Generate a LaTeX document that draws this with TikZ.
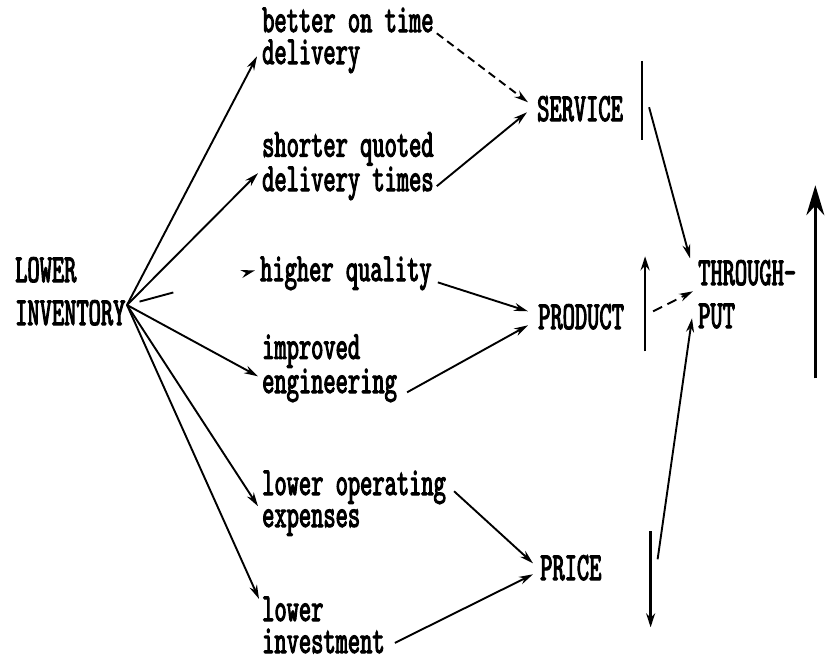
\documentclass[tikz,border=0pt]{standalone}
\usepackage{fontspec}
\usepackage{tikz}
\usetikzlibrary{arrows.meta}
\newfontfamily\typefont[Extension=.otf,FakeStretch=0.583,FakeBold=2.5]{lmmono10-regular}

\tikzset{
  lbl/.style={anchor=base west, inner sep=0pt, align=left,
    font=\typefont\fontsize{40}{32}\selectfont},
  caps/.style={lbl, font=\typefont\fontsize{40}{43}\selectfont},
  arr/.style={-{Stealth[length=14pt,width=8pt]}, line width=1.9pt},
  faint/.style={arr, dash pattern=on 8pt off 5pt},
  bar/.style={line width=2.6pt},
  bigarr/.style={-{Stealth[length=30pt,width=18pt]}, line width=2.6pt}
}

\begin{document}
\begin{tikzpicture}[x=1pt,y=-1pt]
\useasboundingbox (0,0) rectangle (825,665);
% labels
\node[caps] (inv) at (15,325) {LOWER\\INVENTORY};
\node[lbl] (ontime) at (262,64) {better on time\\delivery};
\node[lbl] (quoted) at (262,191) {shorter quoted\\delivery times};
\node[lbl] (quality) at (260,281) {higher quality};
\node[lbl] (eng) at (262,393) {improved\\engineering};
\node[lbl] (opex) at (262,527) {lower operating\\expenses};
\node[lbl] (invest) at (262,653) {lower\\investment};
\node[caps] (service) at (537,121) {SERVICE};
\node[caps] (product) at (538,329) {PRODUCT};
\node[caps] (price) at (540,580) {PRICE};
\node[caps] (thru) at (698,328) {THROUGH-\\PUT};
\coordinate (fan) at (127,305);
% fan out of inventory
\draw[arr] (fan) -- ([shift={(-5,16)}]ontime.west);
\draw[arr] (fan) -- ([shift={(-4,7)}]quoted.west);
\draw[arr, dash pattern=on 0pt off 13pt on 35pt off 300pt] (fan) -- ([shift={(-5,-3)}]quality.west);
\draw[arr] (fan) -- ([shift={(-4,8)}]eng.west);
\draw[arr] (fan) -- ([shift={(-4,3)}]opex.west);
\draw[arr] (fan) -- ([shift={(-3,-26)}]invest.west);
% into the three columns
\draw[faint] ([shift={(3,-7)}]ontime.east) -- ([shift={(-9,-6.5)}]service.west);
\draw[arr] ([shift={(3,20)}]quoted.east) -- ([shift={(-10,3.5)}]service.west);
\draw[arr] ([shift={(6,9)}]quality.east) -- ([shift={(-10,-5.5)}]product.west);
\draw[arr] ([shift={(10,24)}]eng.east) -- ([shift={(-10,8.5)}]product.west);
\draw[arr] ([shift={(8,-12)}]opex.east) -- ([shift={(-7,-4.5)}]price.west);
\draw[arr] ([shift={(10,18)}]invest.east) -- ([shift={(-7,6.5)}]price.west);
% up/down marks and throughput
\draw[bar] ([shift={(19,-48)}]service.east) -- ([shift={(19,31)}]service.east);
\draw[arr] ([shift={(26,-1.5)}]service.east) -- ([shift={(-8,-36)}]thru.west);
\draw[bar, -{Stealth[length=14pt,width=9pt]}] ([shift={(21,34.5)}]product.east) -- ([shift={(21,-60.5)}]product.east);
\draw[arr, dash pattern=on 10pt off 6pt] ([shift={(29,-5.5)}]product.east) -- ([shift={(-5,-3)}]thru.west);
\draw[bar, -{Stealth[length=14pt,width=9pt]}] ([shift={(49,-36.5)}]price.east) -- ([shift={(49,59.5)}]price.east);
\draw[arr] ([shift={(56,-8.5)}]price.east) -- ([shift={(-6,24)}]thru.west);
\draw[bigarr] ([shift={(19,84)}]thru.east) -- ([shift={(19,-109)}]thru.east);
\end{tikzpicture}
\end{document}
